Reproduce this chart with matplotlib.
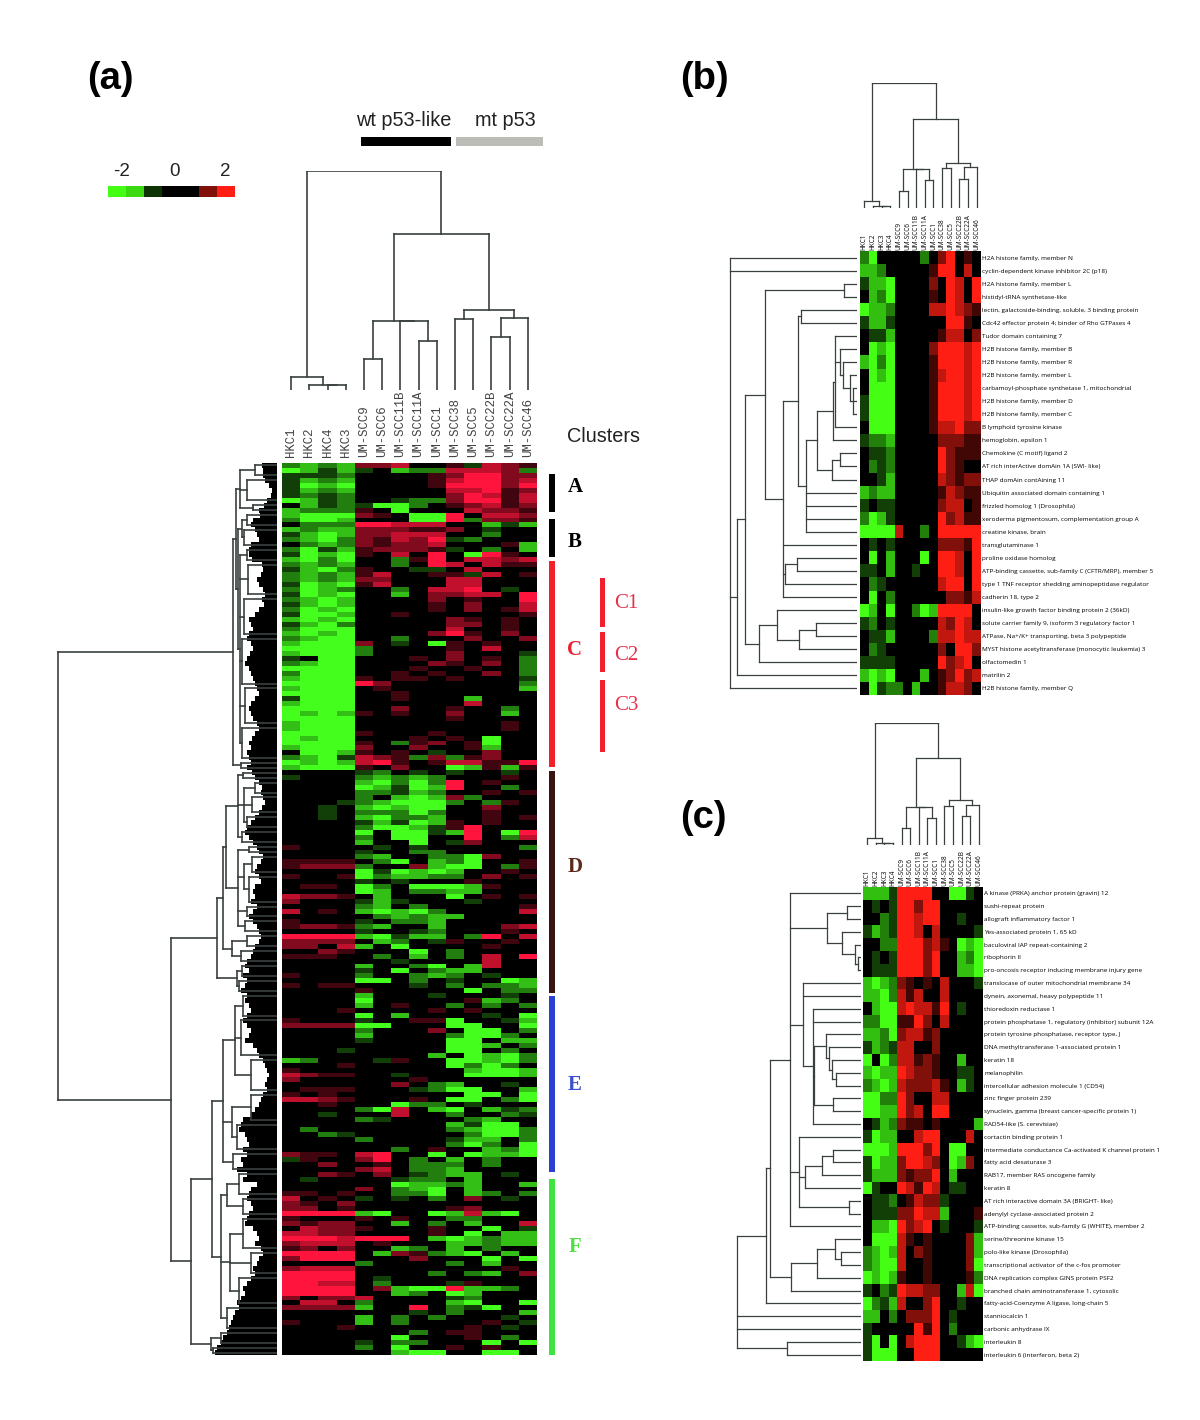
import matplotlib
matplotlib.use("Agg")
import matplotlib.pyplot as plt
import numpy as np
from matplotlib.collections import LineCollection
from matplotlib.colors import LinearSegmentedColormap

# level codes: a b c d = green dim to bright, 1 2 3 4 = red dim to bright, . = black
CODES = {".": 0, "a": -0.5, "b": -1, "c": -1.5, "d": -2, "1": 0.5, "2": 1, "3": 1.5, "4": 2}

samples_a = ["HKC1", "HKC2", "HKC4", "HKC3", "UM-SCC9", "UM-SCC6", "UM-SCC11B", "UM-SCC11A",
             "UM-SCC1", "UM-SCC38", "UM-SCC5", "UM-SCC22B", "UM-SCC22A", "UM-SCC46"]
samples_bc = ["HKC1", "HKC2", "HKC3", "HKC4", "UM-SCC9", "UM-SCC6", "UM-SCC11B", "UM-SCC11A",
              "UM-SCC1", "UM-SCC38", "UM-SCC5", "UM-SCC22B", "UM-SCC22A", "UM-SCC46"]

rows_ab = [
    "bcbc223..1a321", "dcaca.cbb3332b", "aaab....124422", "acbc....134423", "adcd....144424",
    "acbc.....33412", "abab.....24313", "dcab..abb24413", ".cabaddb.12312", "cbbb1.d...3221",
    "cddd21.dd4.332", "bddc...dd4b221", ".bbb44333..cac", "cbcc22211 2.a..".replace(" ", ""),
    "acdc22333..b..", "bcdb21324ab...", ".bcb21223...1c", "bdac12221a.b.c",
]
rows_c = [
    "adcd1.3.4.d41.", "cdbd..b14.3323", "bcbc..b.43.311", "acdb1..aa.3...", "bcbc13..11a3.1",
    "bcbc22...33...", "adcd13...33...", "bdcb..b.334.a.", "adcd..c.2233.4", "bcdc....2.1..4",
    "acdc....1.2..3", "bdcd....1.2.13", "addc..1......1", "cdcd.....21.1.", "acdb.....22.1.",
    "bddd.....3..1.", "cdcd....241.2.", "bcdd..b...2..2", "cddd2.a.d1.1..", "ddddb....1.3..",
    "cdddb....2...a", "a.dd...1.2.1.b", "bcdd....21.2.b", "dddd...1..1..b", "bddd..1.1..2.b",
    "cddd1.11.1...a", "dddd42.......b", "cddd.1.......c", "dddd..1.......", "addd..1...c...",
    "cddd......3...", "dddd..2..1..b.", "dcdc1.1..2..c.", "dddd.....1....", "cddd........1.",
    "cddd........1.", "dddd1...1.....", "dcdd...1.1.d..", "dddd1.b12.1d..", "cddd2..2..1c..",
    ".ddc1.1.a..2..", "bcda321b2b12..", "dcdc341.133114", "cddd1.2..dc1c1",
]
rows_d = [
    "....ab.a.a..a.", "a...bcbcb...1.", "....cdbdb4.1..", "....dcadc4..b.", "....bbacb..1.1",
    "....b.cdc2b...", "...abcdddb.b1.", "..a.cdcdd..2..", "..a.bbbdb..1..", "..a.cdbbc..1.1",
    "....acadc1.1..", "....bddca14...", "....d.ddac4.d4", "....b.dd..4.b3", "....c..d.a2...",
    "1....a.a.....b", "....a..bb.....", "....bc..bbd2..", "1111.bd.cbd..1", "1222b..2cdd.b1",
    "....dadcdc..1.", "1..1dbccbb.2.1", "....a.a...1...", ".11.db.dddc1..", "....dc.bbcc...",
    "3221.c...d.1.1", "2...aca...a...", "....bc.b.....1", "3.1.cdcdb....3", ".....bcbcc....",
    "1...a.bbc.....", "1221bc..c...23", "....a..ab...1.", "4444cdacc.b4.3", "2222.cb.a1..1.",
    "22.3c.d....1..", "..21...d.b....", "111..b.c.b.3.4", "......a....3..", "....c..bd.c3..",
    "....a.d.bcc...", "1...b..bcb.a..", "....dd.b.a..dc", "1.11...a.b.bbc", "....1.....d.bb",
]
rows_e = [
    "....c...a...a.", "....d.....1cb.", "....c.1..b.b.b", "...1....1.1...", "....d.c....a.d",
    "1...a..11d..ac", "2222dd...dd..d", "....b...2.dd.b", "....c....bddb.", "....a....dd.cc",
    ".........ddc.b", "...a.....dd.b.", "........c.dcdb", "cb...a1..ddcdb", "...1.....dbdb.",
    "1.........cddc", "3211..a...dddc", "2......1......", "......2.bc..a.", ".111...abdd..c",
    "1.1.......dd.d", "3321...1.dd.bd", "..1...dbb.a...", "....bd3.cd.cab", "..a...3..b..ba",
    "....ba....bc..", ".........cadd.", ".b.......bcddb", "..ba......bddb", "....b....acc.b",
    ".........bdb.d", "......b.1..cbd", "211.34..d.dccd", "a1..24.b.c.b..", "..2..1.bbb.b..",
    "....23.bbc....",
]
rows_f = [
    "..21.2.abcc.a.", ".a....abb.c...", "......dccbc..c", "....2.bcd.c...", "11.1..bbd.cb.b",
    "3.1.a.a.b.2.a.", "21.2..........", "22.1.....12...", "4444cd..dc3cd.", "1...1.1..bb...",
    "2122..c.b.c..3", ".3221...1..d.a", "3322....1.d.cc", "4443444.cdcbcc", "2333.1...ccbcc",
    "12.2..cb.c.b..", "4444.c21bcd.c.", "2444...2...d.d", "....b....b.c..", "2333........1.",
    "4444....b.bc.2", "4444.a........", "4433.b...a1...", "4444.2cdd4ccb.", "4444..cb.dc...",
    "2.223....ab...", ".33.b....cd..d", "2222c..4.bad..", ".......a.b...c", "....c.b.b...a.",
    "1...c.b....1.a", "...1......1.a.", ".......b.11...", "......d...1.b.", "....a.bb...d.d",
    "....b.d..1.1..", "......cdd..dd.",
]

# how far each row's black leaf reaches into the tree of panel a
reach_ab = [15, 14, 14, 12, 8, 5, 6, 10, 13, 18, 17, 24, 26, 22, 20, 18, 26, 28]
reach_c = [28, 25, 15, 14, 16, 20, 18, 14, 12, 15, 13, 18, 22,
           28, 26, 24, 28, 30, 26, 24, 27, 30, 32, 28, 26, 24, 22, 20, 18, 22, 26,
           28, 26, 24, 20, 18, 22, 25, 28, 26, 30, 28, 26, 30]
reach_d = [25, 22, 18, 15, 16, 14, 12, 15, 18, 22, 26, 30, 32, 28, 24,
           20, 18, 14, 16, 20, 22, 18, 16, 22, 24, 22, 26, 20, 24, 28, 24, 20, 18,
           16, 18, 22, 24, 26, 30, 32, 28, 34, 30, 32, 36]
reach_e = [30, 32, 28, 26, 30, 34, 30, 26, 28, 32, 24, 20, 18, 14,
           12, 10, 8, 10, 12, 10, 14, 16, 18, 22, 26,
           34, 36, 38, 32, 30, 28, 34, 30, 36, 34, 40]
reach_f = [30, 34, 20, 26, 28, 30, 26, 24, 28, 30, 32, 24, 20, 18, 22, 16, 14, 18,
           20, 24, 22, 26, 30, 34, 32, 36, 40, 38, 42, 44, 46, 48, 50, 54, 56, 60, 62]

genes_b = [
    "H2A histone family, member N", "cyclin-dependent kinase inhibitor 2C (p18)",
    "H2A histone family, member L", "histidyl-tRNA synthetase-like",
    "lectin, galactoside-binding, soluble, 3 binding protein",
    "Cdc42 effector protein 4; binder of Rho GTPases 4", "Tudor domain containing 7",
    "H2B histone family, member B", "H2B histone family, member R", "H2B histone family, member L",
    "carbamoyl-phosphate synthetase 1, mitochondrial", "H2B histone family, member D",
    "H2B histone family, member C", "B lymphoid tyrosine kinase", "hemoglobin, epsilon 1",
    "Chemokine (C motif) ligand 2", "AT rich interActive domAin 1A (SWI- like)",
    "THAP domAin contAining 11", "Ubiquitin associated domain containing 1",
    "frizzled homolog 1 (Drosophila)", "xeroderma pigmentosum, complementation group A",
    "creatine kinase, brain", "transglutaminase 1", "proline oxidase homolog",
    "ATP-binding cassette, sub-family C (CFTR/MRP), member 5",
    "type 1 TNF receptor shedding aminopeptidase regulator", "cadherin 18, type 2",
    "insulin-like growth factor binding protein 2 (36kD)",
    "solute carrier family 9, isoform 3 regulatory factor 1",
    "ATPase, Na+/K+ transporting, beta 3 polypeptide",
    "MYST histone acetyltransferase (monocytic leukemia) 3", "olfactomedin 1", "matrilin 2",
    "H2B histone family, member Q",
]
rows_b = [
    "bd.....b.24.1.", "ccb.....144.3.", "accd....2.43.4", ".cbd....1.43.4", "dccb....334321",
    "acca......441.", ".aac.....133.2", ".dcd....244434", "cdbd....144434", ".dcd....134434",
    ".ddd....144434", "addd....144434", "addd....144434", ".ddd....133422", "abbc.....22211",
    ".aab.....42111", ".bab.....421..", "..ac.....32122", "cbcc.....13211", "a.aa.....233.1",
    "bdca.....42311", "dddd3..b.44444", ".a.a.....22214", ".d.c...d.443.4", "aa.c..a..443.4",
    ".ba......344.4", ".d.b......2213", "dc.d..bdc4444.", "ab.a.....3243.", ".aac....b33433",
    ".ba......2.442", "aaaa.....4234.", "cdcd...c.12423", ".dabb.c..1332.",
]

genes_c = [
    "A kinase (PRKA) anchor protein (gravin) 12", "sushi-repeat protein", "allograft inflammatory factor 1",
    "Yes-associated protein 1, 65 kD", "baculoviral IAP repeat-containing 2", "ribophorin II",
    "pro-oncosis receptor inducing membrane injury gene", "translocase of outer mitochondrial membrane 34",
    "dynein, axonemal, heavy polypeptide 11", "thioredoxin reductase 1",
    "protein phosphatase 1, regulatory (inhibitor) subunit 12A", "protein tyrosine phosphatase, receptor type, J",
    "DNA methyltransferase 1-associated protein 1", "keratin 18", "melanophilin",
    "intercellular adhesion molecule 1 (CD54)", "zinc finger protein 239",
    "synuclein, gamma (breast cancer-specific protein 1)", "RAD54-like (S. cerevisiae)",
    "cortactin binding protein 1", "intermediate conductance Ca-activated K channel protein 1",
    "fatty acid desaturase 3", "RAB17, member RAS oncogene family", "keratin 8",
    "AT rich interactive domain 3A (BRIGHT- like)", "adenylyl cyclase-associated protein 2",
    "ATP-binding cassette, sub-family G (WHITE), member 2", "serine/threonine kinase 15",
    "polo-like kinase (Drosophila)", "transcriptional activator of the c-fos promoter",
    "DNA replication complex GINS protein PSF2", "branched chain aminotransferase 1, cytosolic",
    "fatty-acid-Coenzyme A ligase, long-chain 5", "stanniocalcin 1", "carbonic anhydrase IX",
    "interleukin 8", "interleukin 6 (interferon, beta 2)",
]
rows_cc = [
    "ccca4444..dda.", ".a.a44244.....", "..ba44344..a..", "acba443.3....a", "..bb444231.dcd",
    ".a.a44424..cbd", ".aaa44424..ccd", "cdcb21.1.3...a", "ccdb313..3....", ".cdd343314.a..",
    "bbdd1142.3....", "ccbd23312.....", "acba33..2.....", "d.db33121..c..", "cdcc43221..aa.",
    "bcdc322231.ca.", "ddbb42..33....", "ddcc423.44....", ".acb211.1....c", "adcc..344...3.",
    "dddc44424.dd..", "adcc24432.dc2.", "accc21224.c...", "da..43143.aa..", ".aab.1322a....",
    ".aaa22433c...1", ".ccd4234.a...a", ".ddd31.1....2c", "bcdc3.21....2c", "bcdd3..1....2d",
    "dcdc1..1....1b", "a.ba43322..c3d", "dbac3..24..a..", "cc.b.2224.a...", "a.....414.b...",
    "ad.d.3444..acd", "addd..444.....",
]

# trees: (merge height, child, child, ...), int = leaf, list = [first row, last row, height] block
tree_a_cols = (219, (13.3, 0, (5, 1, (5, 2, 3))),
               (156, (69, (31, 4, 5), (69, 6, (49, 7, 8))),
                (80, (71, 9, 10), (72, (53, 11, 12), 13))))
tree_a_upper = (44,
                (41, (37, [0, 2, 22], [3, 7, 30], [8, 9, 24]),
                 (39, (35, [10, 12, 30], [13, 16, 33]),
                  (37, [17, 19, 30], [20, 26, 29], [27, 34, 33], [35, 44, 35], [45, 52, 32], [53, 59, 35]))),
                [60, 61, 36])
tree_a_middle = (60,
                 (54, (51, (39, [62, 63, 34], (33, [64, 66, 22], [67, 70, 25], [71, 73, 30]), [74, 76, 35]),
                       (39, [77, 78, 28], (33, [79, 82, 25], [83, 88, 28]), [89, 91, 30], [92, 94, 32])),
                  (45, [95, 97, 30], [98, 100, 36])),
                 (40, [101, 103, 35], [104, 106, 38]))
tree_a_lower = (86,
                (65, (54, (42, [107, 111, 34], [112, 119, 36], [120, 126, 26]),
                      (45, [127, 132, 26], [133, 138, 40]), [139, 142, 44]),
                 (56, (50, [143, 147, 38], [148, 151, 34]),
                  (47, [152, 158, 34], [159, 163, 26], [164, 169, 38]), [170, 174, 50])),
                (66, [175, 177, 56], [178, 179, 64]))
tree_a_rows = (219, tree_a_upper, (106, tree_a_middle, tree_a_lower))

tree_b_cols = (125, (7, 0, (2.3, 1, (2.3, 2, 3))),
               (89, (39, (17, 4, 5), (39, 6, (28, 7, 8))),
                (45, (40, 9, 10), (41, (29, 11, 12), 13))))
tree_b_upper = (40, (24, (22, 6, (17, 7, (14, 8, (7, 9, (4, 10, 11, 12)))), 13), 14),
                (25, (17, 15, 16), 17))
tree_b_rows = (127, 0, 1,
               (120, (112, (92, (13, 2, 3),
                            (74, (59, (56, 4, 5), (51, tree_b_upper, 18, 19, 20, 21)), 22,
                             (72, (60, 23, 24), 25), 26)),
                      (98, (80, 27, (58, (41, 28, 29), 30)), 31)), 32),
               33)

tree_c_cols = (122, (6.7, 0, (2.3, 1, (2.3, 2, 3))),
               (87, (38, (17, 4, 5), (38, 6, (27, 7, 8))),
                (45, (39, 9, 10), (40, (29, 11, 12), 13))))
tree_c_rows = (124,
               (95, (91, (71, 0,
                          (34, (14, 1, 2), (19, 3, (6, 4, (3, 5, 6)))),
                          (58, 7, 8, (48, 9, 10, (47, (35, 11, (32, 12, (29, 13, (25, 14, 15)))), (28, 16, 17)), 18)),
                          (62, 19, (56, (39, (28, 20, 21), 22), 23), (12, 24, 25)),
                          26),
                     (70, (44, (26, 27, (20, 28, 29)), 30), 31)),
                32),
               33, 34, (74, 35, 36))


def decode(rows):
    return np.array([[CODES[ch] for ch in row.ljust(14, ".")[:14]] for row in rows])


def pixel_axes(x0, y0, x1, y1):
    ax = fig.add_axes([x0 / 1200, 1 - y1 / 1420, (x1 - x0) / 1200, (y1 - y0) / 1420])
    ax.patch.set_alpha(0)
    return ax


def walk(node, segs):
    # returns position along leaves and merge height of a node
    if isinstance(node, int):
        return node + 0.5, 0
    if isinstance(node, list):
        first, last, h = node
        mid = (first + last + 1) / 2
        segs.append(((first + 0.5, h), (last + 0.5, h)))
        segs.append(((first + 0.5, 0), (first + 0.5, h)))
        segs.append(((last + 0.5, 0), (last + 0.5, h)))
        return mid, h
    h = node[0]
    kids = [walk(k, segs) for k in node[1:]]
    for p, kh in kids:
        segs.append(((p, kh), (p, h)))
    segs.append(((kids[0][0], h), (kids[-1][0], h)))
    return (kids[0][0] + kids[-1][0]) / 2, h


def draw_tree(ax, tree, horizontal, lw):
    segs = []
    walk(tree, segs)
    if horizontal:
        segs = [((a[1], a[0]), (b[1], b[0])) for a, b in segs]
    ax.add_collection(LineCollection(segs, colors="#3a4040", linewidths=lw, capstyle="projecting"))
    ax.axis("off")


def heat(box, rows, cmap, top_labels, gene_labels=None, mono=False):
    ax = pixel_axes(*box)
    ax.imshow(decode(rows), cmap=cmap, vmin=-2, vmax=2, aspect="auto", interpolation="nearest")
    for s in ax.spines.values():
        s.set_visible(False)
    ax.xaxis.tick_top()
    ax.set_xticks(range(14))
    if mono:
        ax.set_xticklabels(top_labels, rotation=90, family="Liberation Mono", fontsize=8.9, color="#444444")
        ax.tick_params(axis="x", length=0, pad=4)
    else:
        ax.set_xticklabels(top_labels, rotation=90, family="Open Sans", fontsize=4.7, color="black")
        ax.tick_params(axis="x", length=0, pad=1)
    if gene_labels:
        ax.yaxis.tick_right()
        ax.set_yticks(range(len(rows)))
        ax.set_yticklabels(gene_labels, family="Open Sans", fontsize=4.6, color="black")
        ax.tick_params(axis="y", length=0, pad=1)
    else:
        ax.set_yticks([])
    return ax


fig = plt.figure(figsize=(12, 14.2), dpi=100)
cmap_a = LinearSegmentedColormap.from_list("a", [(0.27, 1, 0.12), (0, 0, 0), (1, 0.08, 0.24)])
cmap_bc = LinearSegmentedColormap.from_list("bc", [(0.27, 1, 0.08), (0, 0, 0), (1, 0.12, 0.08)])

# panel a
rows_a = rows_ab + rows_c + rows_d + rows_e + rows_f
row_reach = reach_ab + reach_c + reach_d + reach_e + reach_f
heat((282, 463, 537, 1355), rows_a, cmap_a, samples_a, mono=True)
ax = pixel_axes(282, 171, 537, 390)
draw_tree(ax, tree_a_cols, False, 1.2)
ax.set_xlim(0, 14)
ax.set_ylim(0, 219)
ax = pixel_axes(55, 463, 277, 1355)
draw_tree(ax, tree_a_rows, True, 1.2)
ax.barh(np.arange(len(row_reach)) + 0.5, row_reach, height=1.0, color="black", linewidth=0)
ax.set_xlim(222, 0)
ax.set_ylim(len(rows_a), 0)

# panel b
heat((860, 251, 981, 695), rows_b, cmap_bc, samples_bc, genes_b)
ax = pixel_axes(860, 83, 981, 208)
draw_tree(ax, tree_b_cols, False, 0.9)
ax.set_xlim(0, 14)
ax.set_ylim(0, 125)
ax = pixel_axes(725, 251, 857, 695)
draw_tree(ax, tree_b_rows, True, 0.9)
ax.set_xlim(132, 0)
ax.set_ylim(len(rows_b), 0)

# panel c
heat((863, 887, 983, 1361), rows_cc, cmap_bc, samples_bc, genes_c)
ax = pixel_axes(863, 723, 983, 845)
draw_tree(ax, tree_c_cols, False, 0.9)
ax.set_xlim(0, 14)
ax.set_ylim(0, 122)
ax = pixel_axes(730, 887, 861, 1361)
draw_tree(ax, tree_c_rows, True, 0.9)
ax.set_xlim(131, 0)
ax.set_ylim(len(rows_cc), 0)

# colour key
key_values = [-2, -1.7, -0.4, 0, 0, 1, 2]
ax = pixel_axes(108, 186, 235, 197)
ax.imshow([key_values], cmap=cmap_bc, vmin=-2, vmax=2, aspect="auto", interpolation="nearest")
ax.axis("off")

# annotations in figure pixels
over = pixel_axes(0, 0, 1200, 1420)
over.set_xlim(0, 1200)
over.set_ylim(1420, 0)
over.axis("off")
sans = "Liberation Sans"
serif = "Liberation Serif"
for label, x, y in [("(a)", 110, 79), ("(b)", 704, 79), ("(c)", 703, 818)]:
    over.text(x, y, label, family=sans, fontweight="bold", fontsize=27.5, ha="center", va="center")
for label, x in [("-2", 122), ("0", 175), ("2", 225)]:
    over.text(x, 172, label, family=sans, fontsize=13.5, ha="center", va="center", color="#222222")
over.text(404, 120, "wt p53-like", family=sans, fontsize=14.3, ha="center", va="center", color="#222222")
over.text(505, 120, "mt p53", family=sans, fontsize=14.3, ha="center", va="center", color="#222222")
over.text(603, 437, "Clusters", family=sans, fontsize=14.3, ha="center", va="center", color="#222222")
over.fill_between([361, 451], 137, 146, color="black", linewidth=0)
over.fill_between([456, 543], 137, 146, color="#bdbdb8", linewidth=0)

cluster_names = ["A", "B", "C", "D", "E", "F"]
cluster_bars = [(474, 512), (519, 557), (561, 767), (771, 993), (996, 1172), (1179, 1355)]
cluster_bar_colors = ["black", "black", "#f2202c", "#3a1510", "#2a40d0", "#3fe33f"]
cluster_text_colors = ["black", "black", "#ee2030", "#5a2a1a", "#3a50d0", "#50e040"]
cluster_text_y = [487, 542, 650, 867, 1085, 1247]
for name, (y0, y1), bc, tc, ty in zip(cluster_names, cluster_bars, cluster_bar_colors,
                                      cluster_text_colors, cluster_text_y):
    over.fill_between([549, 555], y0, y1, color=bc, linewidth=0)
    over.text(575, ty, name, family=serif, fontweight="bold", fontsize=15, color=tc, ha="center", va="center")
for name, (y0, y1), ty in zip(["C1", "C2", "C3"], [(578, 627), (632, 672), (680, 752)], [603, 655, 705]):
    over.fill_between([600, 605], y0, y1, color="#f2202c", linewidth=0)
    over.text(626, ty, name, family=serif, fontsize=15, color="#e8304a", ha="center", va="center")

fig.savefig("out.png", dpi=100)
